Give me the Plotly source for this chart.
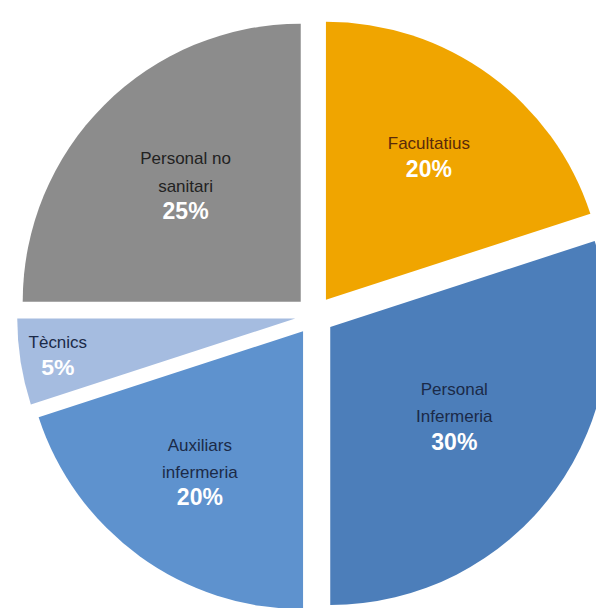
import plotly.graph_objects as go

labels = ["Facultatius", "Personal Infermeria", "Auxiliars infermeria", "Tècnics", "Personal no sanitari"]
display_names = ["Facultatius", "Personal<br>Infermeria", "Auxiliars<br>infermeria", "Tècnics", "Personal no<br>sanitari"]
values = [20, 30, 20, 5, 25]
colors = ["#F0A500", "#4C7EBA", "#5E92CE", "#A5BCE0", "#8C8C8C"]
name_colors = ["#5A2A0A", "#1B2A48", "#1B2A48", "#1B2A48", "#222222"]

custom = [f"<span style='color:{c};font-size:17px'>{n}</span>" for n, c in zip(display_names, name_colors)]

fig = go.Figure(go.Pie(
    labels=labels,
    values=values,
    customdata=custom,
    sort=False,
    direction="clockwise",
    rotation=0,
    pull=[0.07] * 5,
    marker=dict(colors=colors, line=dict(width=0)),
    texttemplate="%{customdata}<br><b><span style='font-size:23px'>%{percent:.0%}</span></b>",
    textposition="inside",
    insidetextorientation="horizontal",
    textfont=dict(family="Liberation Sans, Arial", size=21, color="white"),
    showlegend=False,
    hoverinfo="label+percent",
))

fig.update_layout(
    width=604, height=608,
    margin=dict(l=9, r=0, t=10, b=3),
    paper_bgcolor="white",
    plot_bgcolor="white",
)

fig.write_html("out.html")
